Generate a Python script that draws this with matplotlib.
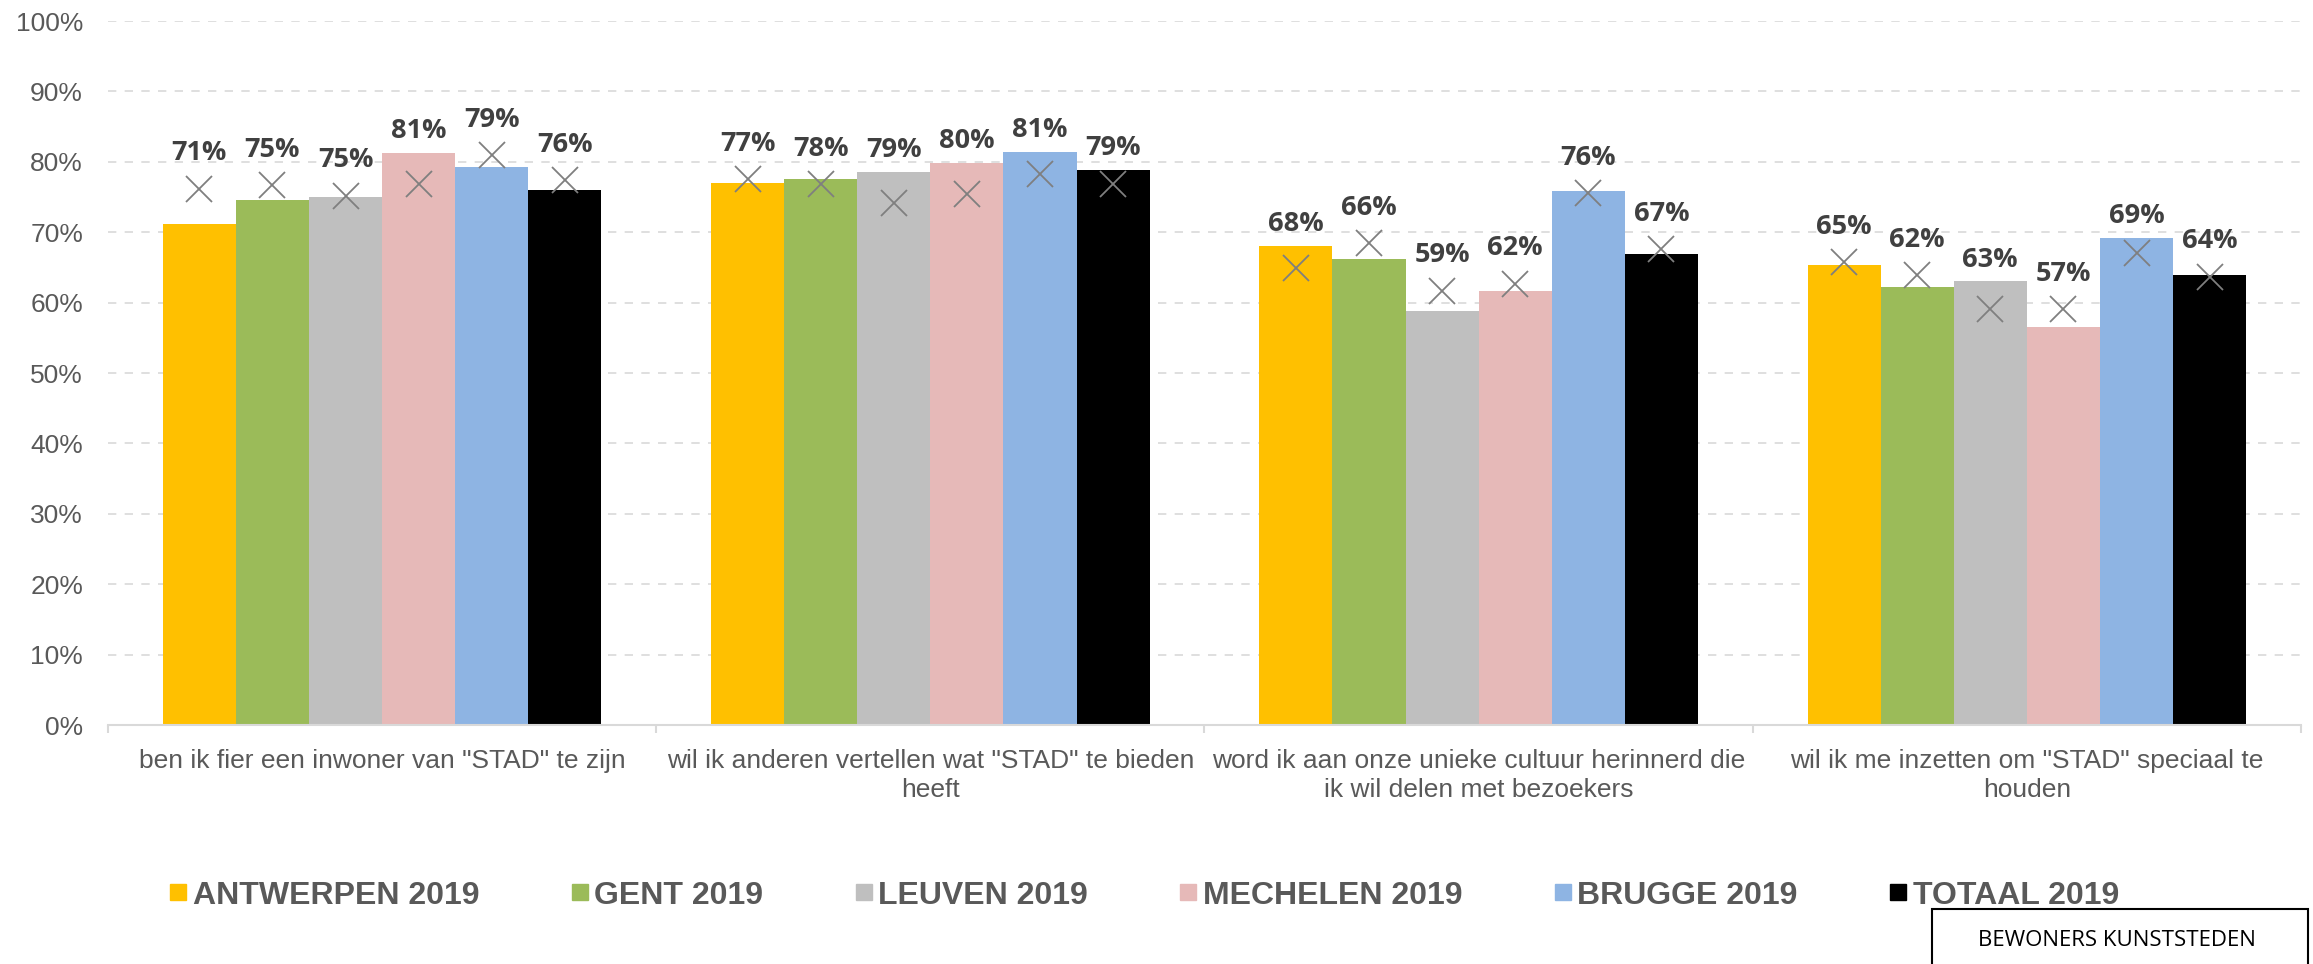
import numpy as np
import matplotlib
matplotlib.use('Agg')
import matplotlib.pyplot as plt
from matplotlib.lines import Line2D
from matplotlib.patches import Rectangle

CATEGORIES = [
    'ben ik fier een inwoner van "STAD" te zijn',
    'wil ik anderen vertellen wat "STAD" te bieden\nheeft',
    'word ik aan onze unieke cultuur herinnerd die\nik wil delen met bezoekers',
    'wil ik me inzetten om "STAD" speciaal te\nhouden',
]
SERIES = ['ANTWERPEN 2019', 'GENT 2019', 'LEUVEN 2019', 'MECHELEN 2019', 'BRUGGE 2019', 'TOTAAL 2019']
COLORS = ['#FFC000', '#9BBB59', '#BFBFBF', '#E6B9B8', '#8EB4E3', '#000000']

# 2019 values (bars), per series over the 4 statements
antwerpen = [71.2, 77.0, 68.0, 65.3]
gent = [74.6, 77.6, 66.2, 62.2]
leuven = [75.0, 78.6, 58.8, 63.0]
mechelen = [81.3, 79.9, 61.7, 56.6]
brugge = [79.3, 81.4, 75.8, 69.2]
totaal = [76.0, 78.8, 66.9, 63.9]
VALUES_2019 = [antwerpen, gent, leuven, mechelen, brugge, totaal]

# earlier measurement (grey crosses)
antwerpen_prev = [76.2, 77.6, 64.9, 65.7]
gent_prev = [76.7, 76.8, 68.5, 63.9]
leuven_prev = [75.2, 74.1, 61.7, 59.1]
mechelen_prev = [76.8, 75.4, 62.7, 59.1]
brugge_prev = [81.0, 78.3, 75.6, 67.0]
totaal_prev = [77.4, 76.8, 67.6, 63.7]
VALUES_PREV = [antwerpen_prev, gent_prev, leuven_prev, mechelen_prev, brugge_prev, totaal_prev]

Y_TICKS = list(range(0, 101, 10))

AXIS_FONT = ['Liberation Sans', 'DejaVu Sans']
LABEL_FONT = ['Open Sans', 'DejaVu Sans']

fig = plt.figure(figsize=(23.13, 9.64), dpi=100)
ax = fig.add_axes([0.0467, 0.2479, 0.9481, 0.7303])

x = np.arange(len(CATEGORIES))
bar_w = 1 / 7.5

for i, (name, color) in enumerate(zip(SERIES, COLORS)):
    pos = x + (i - 2.5) * bar_w
    vals = VALUES_2019[i]
    prev = VALUES_PREV[i]
    ax.bar(pos, vals, width=bar_w, color=color, zorder=2)
    ax.plot(pos, prev, linestyle='none', marker='x', markersize=19,
            markeredgewidth=1.3, color='#7F7F7F', zorder=3)
    for px, v, p in zip(pos, vals, prev):
        top = max(v, p + 1.9)
        ax.text(px, top + 3.1, f'{v:.0f}%', ha='center', va='center',
                fontsize=19.5, fontweight='bold', color='#404040',
                family=LABEL_FONT, zorder=4)

ax.set_xlim(-0.5, len(CATEGORIES) - 0.5)
ax.set_ylim(0, 100)
ax.set_yticks(Y_TICKS)
ax.set_yticklabels([f'{t}%' for t in Y_TICKS], fontsize=19, color='#595959', family=AXIS_FONT)
ax.tick_params(axis='y', length=0, pad=18)

ax.set_xticks(x)
ax.set_xticklabels(CATEGORIES, fontsize=19, color='#595959', family=AXIS_FONT,
                   linespacing=1.3)
ax.set_xticks(np.arange(-0.5, len(CATEGORIES)), minor=True)
ax.tick_params(axis='x', which='major', length=0, pad=17)
ax.tick_params(axis='x', which='minor', length=6, width=1.5, color='#D9D9D9')

for s in ['top', 'right', 'left']:
    ax.spines[s].set_visible(False)
ax.spines['bottom'].set_color('#D9D9D9')
ax.spines['bottom'].set_linewidth(1.5)

ax.yaxis.grid(True, color='#D9D9D9', linewidth=1.2, linestyle=(0, (5, 5)))
ax.set_axisbelow(True)

handles = [Line2D([], [], linestyle='none', marker='s', markersize=11,
                  markerfacecolor=c, markeredgecolor=c) for c in COLORS]
fig.legend(handles, SERIES, loc='center', bbox_to_anchor=(0.4945, 0.071), ncol=6,
           frameon=False, handlelength=0.6, handletextpad=0.15, columnspacing=2.85,
           prop={'family': AXIS_FONT, 'weight': 'bold', 'size': 23},
           labelcolor='#595959')

fig.patches.append(Rectangle((1932 / 2313, -0.01), (2308 - 1932) / 2313, (964 - 909) / 964 + 0.01,
                             transform=fig.transFigure, fill=False,
                             edgecolor='black', linewidth=1.5))
fig.text(2117 / 2313, 1 - 940 / 964, 'BEWONERS KUNSTSTEDEN', ha='center', va='center',
         fontsize=16, color='black', family=LABEL_FONT)

fig.savefig('out.png', dpi=100)
